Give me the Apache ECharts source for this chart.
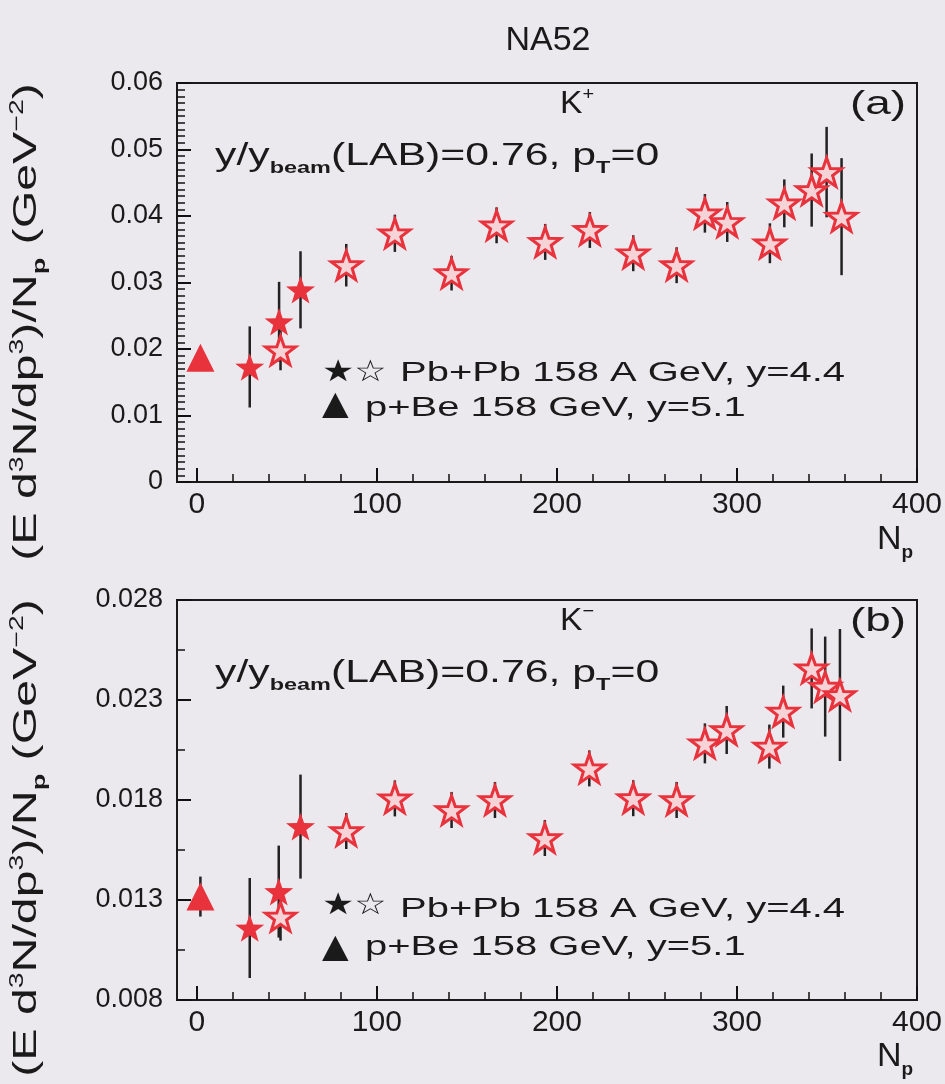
<!DOCTYPE html>
<html><head><meta charset="utf-8">
<script src="https://cdn.jsdelivr.net/npm/echarts@6/dist/echarts.min.js"></script>
<style>html,body{margin:0;padding:0;background:#ECE9EE;}#c{width:945px;height:1084px;}</style>
</head><body><div id="c"></div>
<script>
// ---------- DATA ----------
// Panel (a) K+
const kpFilledX = [29.4, 45.7, 57.6];
const kpFilledY = [0.0173, 0.0241, 0.0289];
const kpFilledErr = [0.0061, 0.0060, 0.0058];
const kpOpenX = [46.5, 83, 110, 141.5, 166.5, 193.5, 218.3, 242.4, 266.5, 282.2, 294.6, 318.3, 326.3, 341.5, 349.8, 358.1];
const kpOpenY = [0.0198, 0.0326, 0.0374, 0.0314, 0.0386, 0.0361, 0.0379, 0.0344, 0.0326, 0.0404, 0.0391, 0.0359, 0.0419, 0.0439, 0.0466, 0.0399];
const kpOpenErr = [0.0030, 0.0032, 0.0028, 0.0026, 0.0027, 0.0027, 0.0027, 0.0027, 0.0027, 0.0029, 0.0030, 0.0030, 0.0036, 0.0055, 0.0068, 0.0088];
const kpTriX = [2];
const kpTriY = [0.0187];
const kpTriErr = [0.0010];
// Panel (b) K-
const kmFilledX = [29.4, 45.5, 57.6];
const kmFilledY = [0.0116, 0.01342, 0.01667];
const kmFilledErr = [0.0025, 0.0023, 0.0026];
const kmOpenX = [46.5, 83, 110, 141.5, 165.6, 193.3, 218, 242.4, 266.5, 282.2, 294.3, 318, 325.7, 341.5, 349, 357.2];
const kmOpenY = [0.01217, 0.01645, 0.01808, 0.0175, 0.018, 0.0161, 0.01958, 0.01809, 0.018, 0.02083, 0.0215, 0.02067, 0.02242, 0.02458, 0.02367, 0.02325];
const kmOpenErr = [0.0012, 0.0009, 0.0009, 0.0009, 0.0009, 0.0009, 0.0009, 0.0009, 0.0009, 0.0010, 0.0012, 0.0011, 0.0013, 0.0020, 0.0025, 0.0033];
const kmTriX = [2];
const kmTriY = [0.01317];
const kmTriErr = [0.0010];
// Ticks
const xMajor = [0, 100, 200, 300, 400];
const yTopMajor = [0, 0.01, 0.02, 0.03, 0.04, 0.05, 0.06];
const yBotMajor = [0.008, 0.013, 0.018, 0.023, 0.028];
const yBotMinor = [0.0105, 0.0155, 0.0205, 0.0255];
const xMinor = [];
for (let v = 20; v < 400; v += 20) if (v % 100) xMinor.push(v);
const yTopMinor = [];
for (let k = 1; k < 60; k++) if (k % 10) yTopMinor.push(k / 1000);

// ---------- STYLE ----------
const FONT = 'Liberation Sans';
const INK = '#1a1a1a';
const TICK = '#111';
const RED = '#E8323C';
const STAR = 'path://M0,-50L11.76,-16.18L47.55,-15.45L19.02,6.18L29.39,40.45L0,20L-29.39,40.45L-19.02,6.18L-47.55,-15.45L-11.76,-16.18Z';
const axLine = () => ({show: true, onZero: false, lineStyle: {color: INK, width: 2}});
const noSplit = () => ({show: true, lineStyle: {color: 'rgba(0,0,0,0)', width: 0}});

const zip2 = (xs, ys) => xs.map((x, i) => [x, ys[i]]);
const zip3 = (xs, ys, es) => xs.map((x, i) => [x, ys[i], es[i]]);

function errItem(params, api) {
  const x = api.value(0), y = api.value(1), e = api.value(2);
  const a = api.coord([x, y + e]), b = api.coord([x, y - e]);
  return {type: 'line', shape: {x1: a[0], y1: a[1], x2: b[0], y2: b[1]},
          style: {stroke: '#222', lineWidth: 2.5}};
}

function panelSeries(xi, yi, fx, fy, fe, ox, oy, oe, tx, ty, te) {
  return [
    {type: 'custom', xAxisIndex: xi, yAxisIndex: yi, renderItem: errItem, z: 2,
     encode: {x: 0, y: 1}, data: zip3(fx, fy, fe).concat(zip3(ox, oy, oe), zip3(tx, ty, te))},
    {type: 'scatter', xAxisIndex: xi, yAxisIndex: yi, z: 3, symbol: STAR, symbolKeepAspect: true,
     symbolSize: 30, itemStyle: {color: '#F5D3D7', borderColor: RED, borderWidth: 3, opacity: 1},
     data: zip2(ox, oy)},
    {type: 'scatter', xAxisIndex: xi, yAxisIndex: yi, z: 4, symbol: STAR, symbolKeepAspect: true,
     symbolSize: 29, itemStyle: {color: RED, opacity: 1}, data: zip2(fx, fy)},
    {type: 'scatter', xAxisIndex: xi, yAxisIndex: yi, z: 4, symbol: 'triangle',
     symbolSize: [28, 28], itemStyle: {color: RED, opacity: 1}, data: zip2(tx, ty)}
  ];
}

function xAxes(g) {
  const common = () => ({gridIndex: g, type: 'value', position: 'bottom', min: -11, max: 400,
                  axisLine: axLine(), splitLine: noSplit()});
  return [
    Object.assign(common(), {
      axisTick: {show: true, inside: true, length: 14, customValues: xMajor, lineStyle: {color: TICK, width: 2}},
      axisLabel: {customValues: xMajor, fontFamily: FONT, fontSize: 30, color: INK, margin: 8}}),
    Object.assign(common(), {
      axisTick: {show: true, inside: true, length: 8, customValues: xMinor, lineStyle: {color: TICK, width: 1.5}},
      axisLabel: {show: false}})
  ];
}
function yAxis(g, min, max, major, minor, fmt) {
  const common = () => ({gridIndex: g, type: 'value', position: 'left', min: min, max: max,
                  axisLine: axLine(), splitLine: noSplit()});
  return [
    Object.assign(common(), {
      axisTick: {show: true, inside: true, length: 14, customValues: major, lineStyle: {color: TICK, width: 2}},
      axisLabel: {customValues: major, fontFamily: FONT, fontSize: 27, color: INK, margin: 14, formatter: fmt}}),
    Object.assign(common(), {
      axisTick: {show: true, inside: true, length: 8, customValues: minor, lineStyle: {color: TICK, width: 1.5}},
      axisLabel: {show: false}})
  ];
}

function rich(fs) {
  const sub = Math.round(fs * 0.55), sup = Math.round(fs * 0.6);
  const hs = Math.round(fs * 1.76), hp = Math.round(fs * 0.44);
  return {
    n: {fontSize: fs, fontFamily: FONT, fill: INK, height: fs, lineHeight: fs, verticalAlign: 'top'},
    s: {fontSize: sub, fontFamily: FONT, fill: INK, fontWeight: 'bold', height: hs, lineHeight: hs, verticalAlign: 'top'},
    p: {fontSize: sup, fontFamily: FONT, fill: INK, height: hp, lineHeight: hp, verticalAlign: 'top'}
  };
}
function rtext(x, y, text, fs, sx) {
  return {type: 'text', x: x, y: y, scaleX: sx, z: 100,
    style: {text: text, rich: rich(fs), fill: INK, align: 'left', verticalAlign: 'top'}};
}
function ptext(x, y, text, fs, sx, align, family) {
  return {type: 'text', x: x, y: y, scaleX: sx, z: 100,
    style: {text: text, fontFamily: family || FONT, fontSize: fs, fill: INK, align: align || 'left', verticalAlign: 'middle'}};
}

const yTitle = '{n|(E d}{p|3}{n|N/dp}{p|3}{n|)/N}{s|p}{n| (GeV}{p|−2}{n|)}';
function titleY(cy) {
  return {type: 'text', x: 40, y: cy, scaleX: 1.42, rotation: Math.PI / 2, z: 100,
    style: {text: yTitle, rich: rich(34), fill: INK, align: 'center', verticalAlign: 'middle'}};
}

function panelGraphics(dy, kText, tag, legY1, legY2, mkY1, mkY2) {
  return [
    rtext(560, 88 + dy, kText, 32, 1.05),
    ptext(878, 105 + dy, tag, 34, 1.35, 'center'),
    rtext(215, 141 + dy, '{n|y/y}{s|beam}{n|(LAB)=0.76, p}{s|T}{n|=0}', 31, 1.38),
    ptext(322, mkY1, '★☆', 30, 1.2, 'left', 'DejaVu Sans'),
    ptext(322, mkY2, '▲', 33, 1.05, 'left', 'DejaVu Sans'),
    ptext(400, legY1, 'Pb+Pb 158 A GeV, y=4.4', 27, 1.48),
    ptext(365, legY2, 'p+Be 158 GeV, y=5.1', 27, 1.48),
    rtext(877, 523 + dy, '{n|N}{s|p}', 34, 1.0)
  ];
}

const option = {
  backgroundColor: '#ECE9EE',
  animation: false,
  grid: [
    {left: 177, top: 83, width: 740, height: 399, show: true, borderColor: INK, borderWidth: 2,
     outerBoundsMode: 'none'},
    {left: 177, top: 600, width: 740, height: 400, show: true, borderColor: INK, borderWidth: 2,
     outerBoundsMode: 'none'}
  ],
  xAxis: xAxes(0).concat(xAxes(1)),
  yAxis: yAxis(0, 0, 0.06, yTopMajor, yTopMinor, v => (Math.abs(v) < 1e-12 ? '0' : v.toFixed(2)))
    .concat(yAxis(1, 0.008, 0.028, yBotMajor, yBotMinor, v => v.toFixed(3))),
  series: panelSeries(0, 0, kpFilledX, kpFilledY, kpFilledErr, kpOpenX, kpOpenY, kpOpenErr, kpTriX, kpTriY, kpTriErr)
    .concat(panelSeries(2, 2, kmFilledX, kmFilledY, kmFilledErr, kmOpenX, kmOpenY, kmOpenErr, kmTriX, kmTriY, kmTriErr)),
  graphic: {elements: [
    ptext(548, 41, 'NA52', 34, 1.0, 'center'),
    titleY(322),
    titleY(838)
  ].concat(
    panelGraphics(0, '{n|K}{p|+}', '(a)', 374, 409, 373, 405),
    panelGraphics(517, '{n|K}{p|−}', '(b)', 910, 948, 906, 948)
  )}
};

const chart = echarts.init(document.getElementById('c'), null, {renderer: 'canvas'});
chart.setOption(option);
</script>
</body></html>
